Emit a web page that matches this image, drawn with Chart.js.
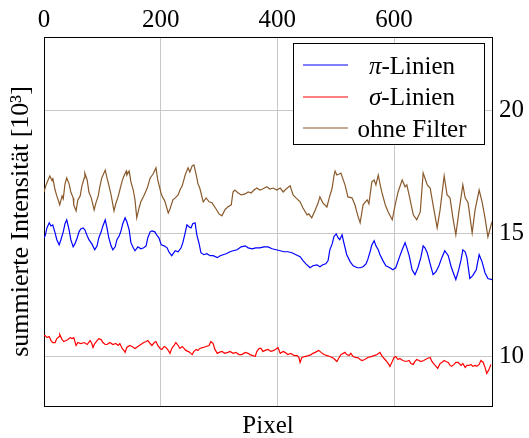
<!DOCTYPE html>
<html><head><meta charset="utf-8">
<script src="https://cdn.jsdelivr.net/npm/chart.js@4"></script>
<style>html,body{margin:0;padding:0;background:#fff}canvas{display:block}</style>
</head><body>
<canvas id="c" width="529" height="438"></canvas>
<script>
// ---- data ----
const xTicks = [0, 200, 400, 600];
const yTicks = [10, 15, 20];
const seriesNames = ['π-Linien', 'σ-Linien', 'ohne Filter'];

const piX = [0,2,5,9,12,15,19,22,26,29,33,36,39,43,46,50,53,57,60,63,67,70,74,77,82,87,91,94,98,101,105,108,111,115,118,122,125,129,132,135,139,142,146,149,153,156,161,166,171,175,178,182,185,190,194,197,201,206,211,214,219,225,230,235,238,242,245,249,252,255,259,262,266,269,274,279,285,290,297,302,307,312,319,324,331,338,345,350,357,363,370,377,384,391,398,405,411,418,425,432,439,444,449,456,461,468,473,478,483,487,490,494,497,501,504,507,511,514,519,525,530,537,542,547,552,555,559,562,566,569,573,576,581,586,593,598,603,609,614,619,622,626,631,636,641,646,650,653,657,662,667,672,677,682,687,693,698,701,706,711,715,718,722,725,730,735,741,746,751,756,761,768];
const piY = [14.84,14.92,15.24,15.45,15.32,15.36,15.04,14.76,14.55,14.76,15.08,15.41,15.57,15.16,14.76,14.47,14.59,14.84,15.08,15.20,15.24,15.16,14.92,14.76,14.59,14.35,14.51,14.84,15.08,15.32,15.57,15.24,14.84,14.51,14.35,14.47,14.76,14.92,15.12,15.41,15.65,15.49,15.16,14.64,14.43,14.31,14.47,14.39,14.43,14.51,14.84,15.08,15.12,15.08,14.92,14.84,14.55,14.51,14.43,14.27,14.11,14.31,14.27,14.43,14.64,15.04,15.36,15.28,15.24,15.41,15.45,14.96,14.59,14.23,14.15,14.19,14.11,14.11,14.03,14.11,14.15,14.19,14.27,14.31,14.35,14.47,14.51,14.43,14.39,14.43,14.43,14.47,14.47,14.39,14.35,14.31,14.27,14.27,14.23,14.15,14.07,13.91,13.78,13.62,13.70,13.74,13.66,13.74,13.78,13.91,14.35,14.59,14.88,15.00,14.84,14.76,14.96,14.64,14.15,13.86,13.70,13.62,13.62,13.66,13.78,13.95,14.27,14.55,14.72,14.51,14.35,14.15,13.91,13.70,13.62,13.54,13.62,14.03,14.35,14.64,14.43,14.11,13.54,13.34,13.62,14.03,14.51,14.43,14.23,13.78,13.34,13.46,13.70,14.03,14.31,14.11,13.66,13.46,13.14,13.54,13.95,14.35,14.27,14.03,13.18,13.30,13.54,14.15,13.86,13.42,13.18,13.14];

const sigmaX = [0,2,5,9,12,15,19,22,26,27,31,34,38,41,45,48,51,55,58,63,69,74,79,82,84,87,91,94,98,101,105,108,113,118,123,127,130,134,137,139,142,147,151,156,161,166,171,175,178,182,185,189,192,195,199,202,206,209,213,216,219,223,226,230,233,237,240,243,247,250,254,257,261,264,267,273,278,283,286,290,293,297,300,305,310,315,319,324,329,334,339,345,350,353,358,362,365,369,372,375,379,384,389,394,399,401,405,410,413,418,423,429,434,437,439,442,447,453,458,461,465,468,471,475,480,485,490,494,497,502,506,509,513,516,519,523,526,530,535,538,542,545,550,555,561,566,571,576,579,583,586,590,593,597,600,603,607,610,615,621,626,629,633,636,639,643,646,651,657,662,665,669,672,675,679,682,686,689,693,696,699,703,706,710,715,718,722,725,729,732,735,739,742,746,749,753,756,759,763,766];
const sigmaY = [10.86,10.86,10.78,10.82,10.66,10.58,10.58,10.74,10.82,10.91,10.70,10.62,10.66,10.70,10.78,10.74,10.78,10.46,10.58,10.54,10.58,10.50,10.66,10.54,10.38,10.54,10.66,10.74,10.70,10.58,10.50,10.50,10.58,10.50,10.54,10.46,10.54,10.34,10.26,10.18,10.38,10.46,10.42,10.34,10.42,10.50,10.58,10.62,10.66,10.54,10.46,10.58,10.62,10.46,10.34,10.30,10.42,10.38,10.26,10.14,10.34,10.46,10.58,10.46,10.34,10.42,10.34,10.26,10.22,10.18,10.09,10.22,10.30,10.26,10.34,10.38,10.42,10.46,10.62,10.54,10.30,10.14,10.18,10.22,10.14,10.18,10.22,10.14,10.18,10.09,10.09,10.18,10.14,10.09,10.05,10.01,10.22,10.34,10.34,10.22,10.26,10.30,10.22,10.26,10.34,10.38,10.14,10.22,10.18,10.09,10.14,10.05,10.05,9.97,9.77,9.97,10.01,10.05,10.09,10.14,10.18,10.22,10.26,10.18,10.09,10.05,10.01,9.97,9.93,9.81,9.97,10.09,10.14,10.18,10.09,10.05,10.14,10.01,9.97,9.97,9.89,9.85,9.89,9.97,10.01,10.05,10.09,10.18,10.05,9.93,9.85,9.73,9.61,9.81,9.97,10.01,9.89,9.93,9.85,9.81,9.85,9.73,9.69,9.81,9.89,9.85,9.81,9.85,9.93,9.97,9.81,9.69,9.61,9.53,9.73,9.77,9.85,9.81,9.77,9.65,9.61,9.69,9.77,9.77,9.65,9.73,9.57,9.65,9.65,9.69,9.61,9.65,9.61,9.69,9.85,9.77,9.57,9.32,9.49,9.69];

const rawX = [0,3,7,10,14,15,19,22,27,31,33,36,39,43,46,50,51,55,58,62,65,69,70,74,77,81,86,89,93,96,99,105,108,111,115,120,123,127,130,134,137,141,142,146,149,153,156,159,163,166,171,177,182,187,192,195,201,204,207,213,216,221,225,230,233,237,242,247,250,254,257,261,264,267,273,278,283,288,295,300,305,310,315,321,324,327,333,338,345,350,355,360,365,370,375,382,387,393,399,405,410,415,422,427,432,439,444,451,454,459,465,470,473,478,485,489,494,497,499,502,506,509,513,516,521,528,533,538,542,547,554,557,562,566,569,573,576,579,585,590,597,602,607,614,619,622,627,633,639,645,650,657,662,667,674,679,686,691,696,701,706,711,718,722,727,734,739,746,751,756,761,768];
const rawY = [16.70,16.95,17.19,17.35,17.15,17.27,16.78,16.54,16.18,16.54,16.42,17.03,17.27,17.03,16.70,16.46,16.18,15.93,16.38,16.54,16.95,17.27,17.47,17.19,16.70,16.46,15.97,16.26,16.54,16.95,17.27,17.59,17.27,16.99,16.58,15.93,16.22,16.50,16.78,17.15,17.35,17.55,17.39,17.55,17.11,16.78,16.38,15.65,16.05,16.30,16.54,16.86,17.27,17.43,17.68,17.19,16.62,16.46,16.34,15.85,16.01,16.38,16.46,16.58,16.78,16.95,17.39,17.68,17.51,17.76,17.80,17.39,17.03,16.86,16.30,16.46,16.30,16.26,16.01,15.81,15.73,15.97,16.09,16.18,16.70,16.78,16.66,16.58,16.62,16.70,16.66,16.78,16.86,16.78,16.82,16.91,16.82,16.86,16.78,16.86,16.70,16.82,16.95,16.58,16.46,16.30,16.05,15.77,15.81,15.65,15.97,16.26,16.50,16.26,16.09,16.46,16.86,17.35,17.55,17.39,17.43,17.47,17.19,16.99,16.50,16.46,16.18,15.73,15.45,16.18,16.38,16.22,17.11,17.19,16.99,17.39,17.03,16.70,16.18,15.89,15.57,16.18,16.70,17.19,16.91,16.99,16.46,15.77,15.57,15.89,17.47,16.99,16.86,16.18,15.24,15.97,17.35,16.58,16.46,15.65,14.96,15.85,16.99,16.46,16.26,15.04,15.97,16.78,16.30,15.65,14.88,15.49];

// ---- chart ----
const FONT = 'Liberation Serif, Times New Roman, serif';
const FS = 25;
const COLORS = ['#0000ff', '#ff0000', '#8a5a2c'];
const toPts = (xs, ys) => xs.map((x, i) => ({x, y: ys[i]}));

const boxLegend = {
  id: 'boxLegend',
  afterDatasetsDraw(chart) {
    const ctx = chart.ctx, a = chart.chartArea;
    const bw = 191, bh = 101;
    const bx = a.right - 8 - bw, by = a.top + 6;
    ctx.save();
    ctx.fillStyle = '#fff';
    ctx.fillRect(bx, by, bw, bh);
    ctx.strokeStyle = '#000'; ctx.lineWidth = 1;
    ctx.strokeRect(Math.round(bx) + 0.5, Math.round(by) + 0.5, bw, bh);
    ctx.textBaseline = 'middle';
    seriesNames.forEach((label, i) => {
      const cy = by + 22 + i * 31.5;
      ctx.strokeStyle = COLORS[i]; ctx.lineWidth = 1.2;
      ctx.beginPath(); ctx.moveTo(bx + 10, Math.round(cy)); ctx.lineTo(bx + 55, Math.round(cy)); ctx.stroke();
      const greek = /^[πσ]/.test(label);
      const first = greek ? label[0] : '';
      const rest = greek ? label.slice(1) : label;
      ctx.font = 'italic ' + FS + 'px ' + FONT;
      const w1 = first ? ctx.measureText(first).width : 0;
      ctx.font = FS + 'px ' + FONT;
      const w2 = ctx.measureText(rest).width;
      const cx = bx + 119;
      let x = cx - (w1 + w2) / 2;
      ctx.fillStyle = '#000'; ctx.textAlign = 'left';
      if (first) { ctx.font = 'italic ' + FS + 'px ' + FONT; ctx.fillText(first, x, cy + 2); x += w1; }
      ctx.font = FS + 'px ' + FONT; ctx.fillText(rest, x, cy + 2);
    });
    ctx.restore();
  }
};

const font = {family: FONT, size: FS};
new Chart(document.getElementById('c'), {
  type: 'line',
  data: {
    datasets: [
      {label: seriesNames[0], data: toPts(piX, piY), borderColor: COLORS[0]},
      {label: seriesNames[1], data: toPts(sigmaX, sigmaY), borderColor: COLORS[1]},
      {label: seriesNames[2], data: toPts(rawX, rawY), borderColor: COLORS[2]}
    ].map(d => Object.assign(d, {borderWidth: 1.2, pointRadius: 0, tension: 0, fill: false}))
  },
  options: {
    responsive: false, animation: false, devicePixelRatio: 1,
    layout: {padding: 0},
    plugins: {legend: {display: false}, tooltip: {enabled: false}},
    scales: {
      x: {
        type: 'linear', position: 'top', min: 0, max: 768,
        afterBuildTicks: s => { s.ticks = xTicks.map(v => ({value: v})); },
        afterFit: s => { s.height = 37; },
        ticks: {font, color: '#000', padding: 2, maxRotation: 0},
        grid: {color: '#c8c8c8', lineWidth: 1, drawTicks: false},
        border: {color: '#000', width: 1}
      },
      xb: {
        type: 'linear', position: 'bottom', min: 0, max: 768,
        afterFit: s => { s.height = 32; },
        ticks: {display: false},
        grid: {display: false, drawTicks: false},
        border: {color: '#000', width: 1},
        title: {display: true, text: 'Pixel', font, color: '#000', padding: {top: 0, bottom: -3}}
      },
      y: {
        type: 'linear', position: 'right', min: 8, max: 23,
        afterBuildTicks: s => { s.ticks = yTicks.map(v => ({value: v})); },
        afterFit: s => { s.width = 37; },
        ticks: {font, color: '#000', padding: 7},
        grid: {color: '#c8c8c8', lineWidth: 1, drawTicks: false},
        border: {color: '#000', width: 1}
      },
      yl: {
        type: 'linear', position: 'left', min: 8, max: 23,
        afterFit: s => { s.width = 44; },
        ticks: {display: false},
        grid: {display: false, drawTicks: false},
        border: {color: '#000', width: 1},
        title: {display: true, text: 'summierte Intensität [10³]', font: {family: FONT, size: 26}, color: '#000', padding: {top: 6, bottom: 0}}
      }
    }
  },
  plugins: [boxLegend]
});
</script>
</body></html>
